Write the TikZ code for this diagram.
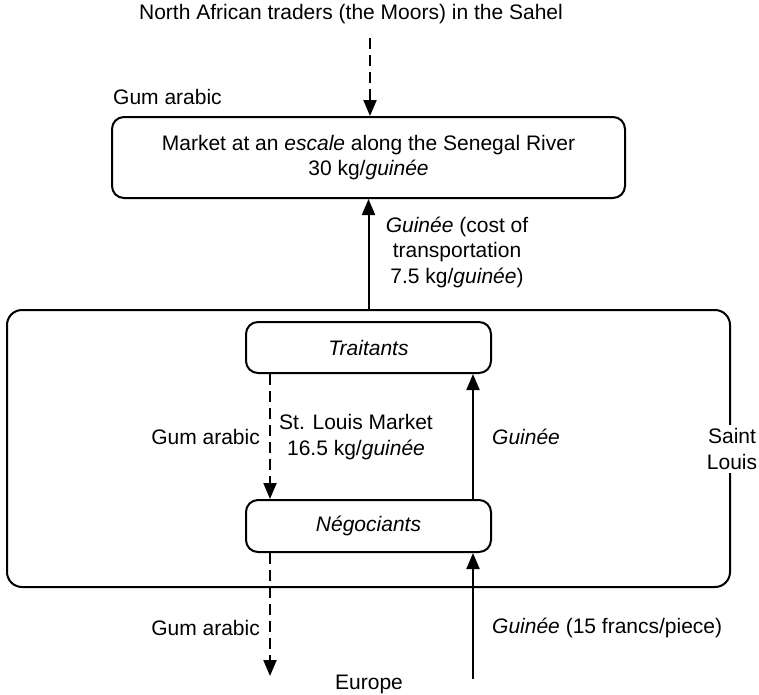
\documentclass[tikz,border=0pt]{standalone}
\usepackage{fontspec}
\setmainfont{Liberation Sans}
\usetikzlibrary{arrows.meta}
\begin{document}
\begin{tikzpicture}[x=1pt,y=1pt,
  every node/.style={font=\fontsize{21}{25.5}\selectfont, inner sep=0pt},
  box/.style={draw, line width=2pt, rounded corners=12pt},
  conn/.style={line width=2pt, -{Triangle[length=16pt,width=13pt]}},
  dconn/.style={conn, dash pattern=on 11pt off 6pt},
  lbl/.style={align=center}]
\useasboundingbox (0,0) rectangle (759,-694);
% big Saint Louis box
\node[box, rounded corners=15pt, minimum width=723pt, minimum height=277pt] (big) at (368.5,-448.5) {};
\node[fill=white, align=center, inner sep=4pt] (sl) at (732,-449) {Saint\\Louis};
% boxes
\node[box, minimum width=513pt, minimum height=81pt, align=center] (market) at (368.5,-157.5)
  {Market at an \textit{escale} along the Senegal River\\30 kg/\textit{guinée}};
\node[box, minimum width=245pt, minimum height=51pt] (tra) at (368.5,-347.5) {\textit{Traitants}};
\node[box, minimum width=245pt, minimum height=52pt] (neg) at (368.5,-526) {\textit{Négociants}};
% outside texts
\node (moors) at (351,-14) {North African traders (the Moors) in the Sahel};
\node (europe) at (369,-684) {Europe};
\node[anchor=west] (gtop) at (113,-97) {Gum arabic};
\node[lbl] (cost) at (457,-252) {\textit{Guinée} (cost of\\transportation\\7.5 kg/\textit{guinée})};
\node[anchor=east] (g1) at (260,-437) {Gum arabic};
\node[lbl] (stl) at (356,-437) {St. Louis Market\\16.5 kg/\textit{guinée}};
\node[anchor=west] (gu1) at (492,-437) {\textit{Guinée}};
\node[anchor=east] (g2) at (260,-628) {Gum arabic};
\node[anchor=west] (gu2) at (492,-628) {\textit{Guinée} (15 francs/piece)};
% coordinates
\coordinate (gx) at (270,0);
\coordinate (mx) at (473,0);
\coordinate (ms) at (370,-38);
\coordinate (e1) at (270,-676);
\coordinate (e2) at (473,-679);
% connectors
\draw[dconn] (ms) -- (ms |- market.north);
\draw[conn] (big.north) -- (market.south);
\draw[dconn] (tra.south -| gx) -- (neg.north -| gx);
\draw[conn] (neg.north -| mx) -- (tra.south -| mx);
\draw[dconn] (neg.south -| gx) -- (e1);
\draw[conn] (e2) -- (neg.south -| mx);
\end{tikzpicture}
\end{document}
